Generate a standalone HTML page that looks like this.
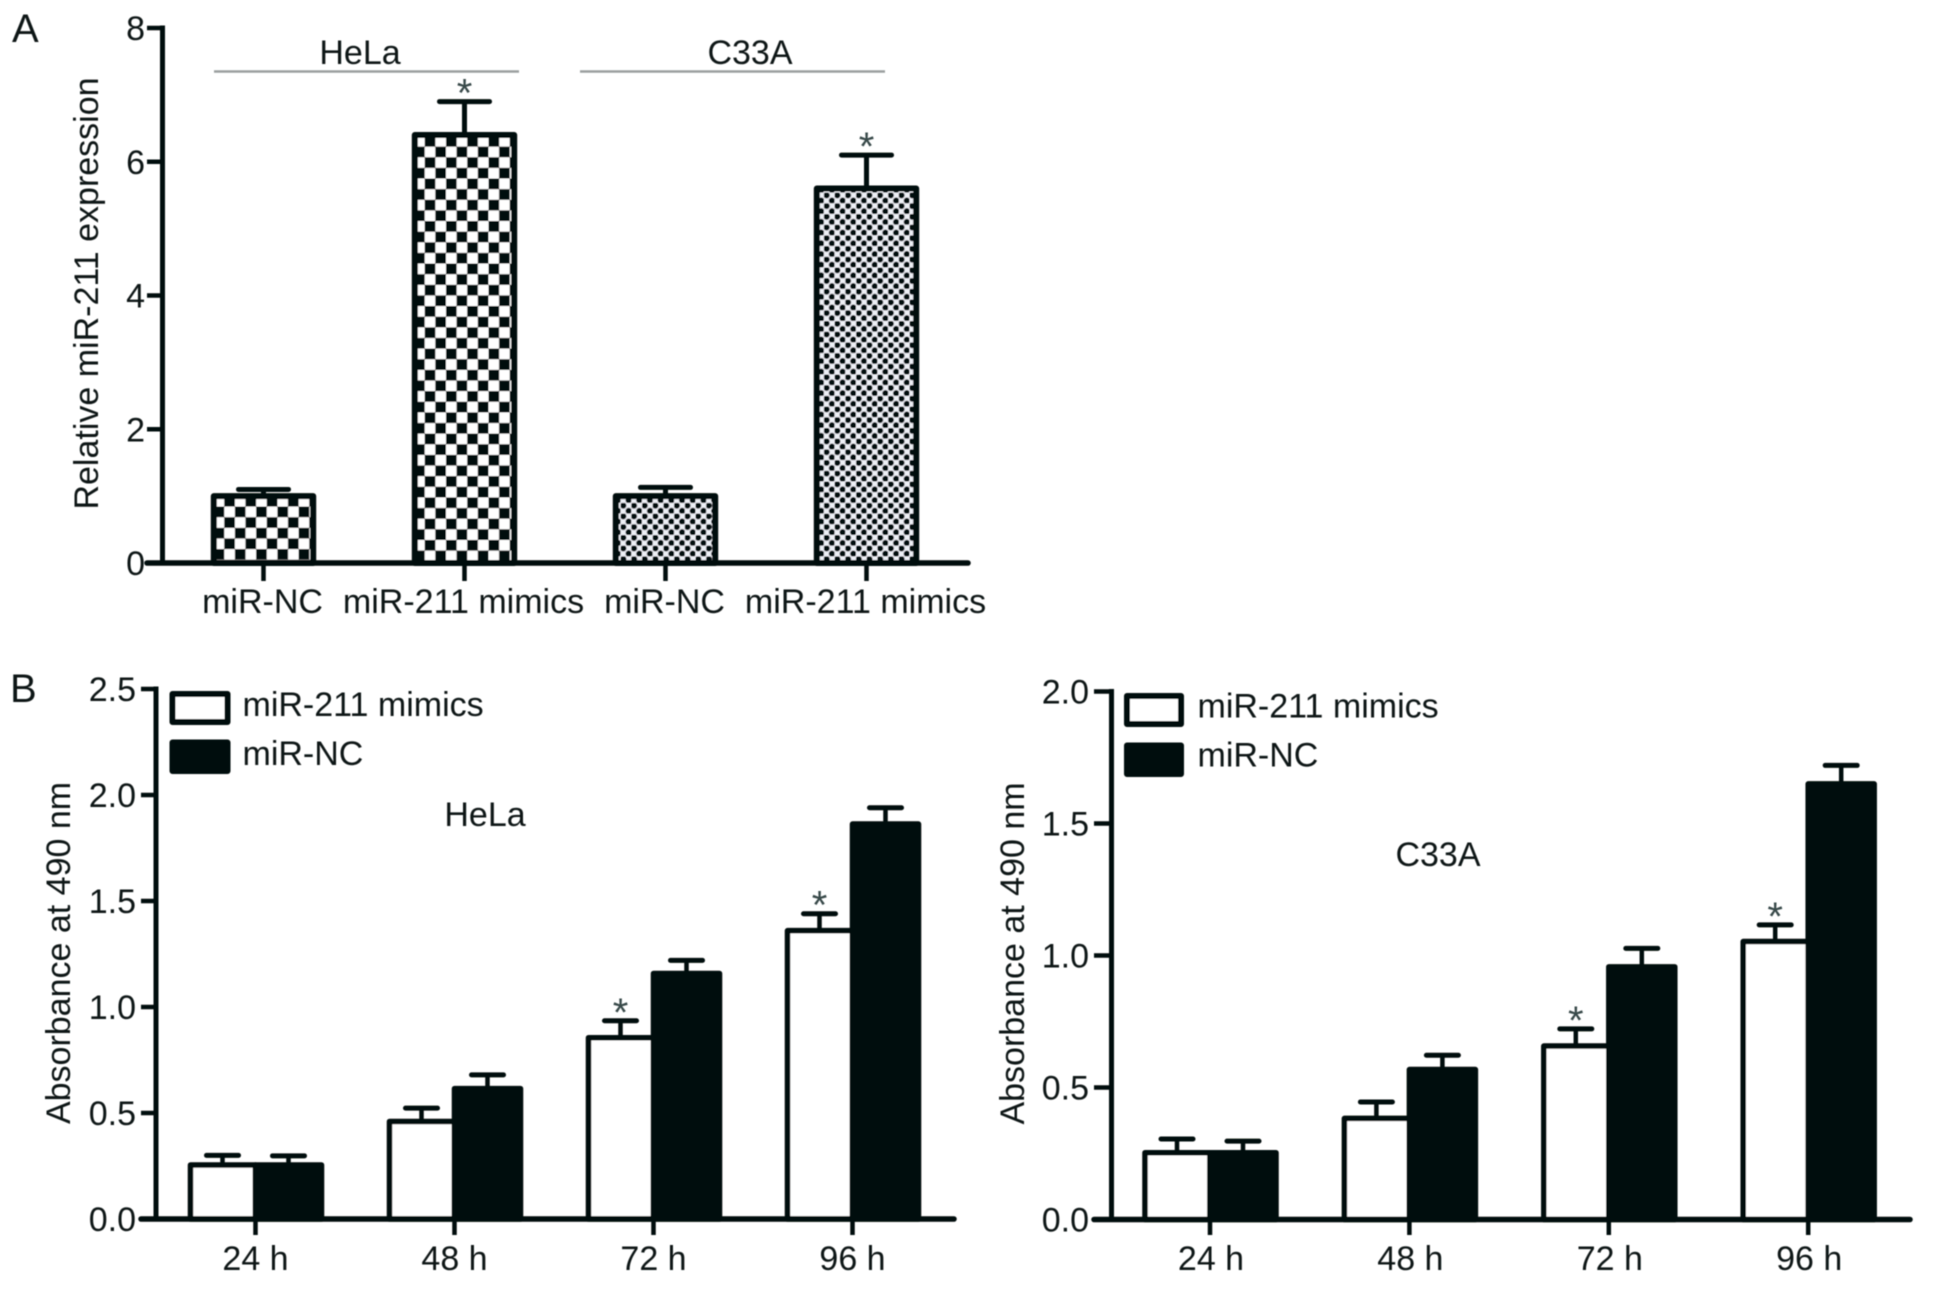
<!DOCTYPE html>
<html lang="en">
<head>
<meta charset="utf-8">
<title>miR-211 expression and absorbance</title>
<style>
html,body{margin:0;padding:0;background:#fff;width:1949px;height:1300px;overflow:hidden}
svg{display:block}
text{font-family:"Liberation Sans",Arial,sans-serif;font-size:34px;fill:#101414}
</style>
</head>
<body>
<svg id="figure" xmlns="http://www.w3.org/2000/svg" width="1949" height="1300" viewBox="0 0 1949 1300">
  <defs>
    <filter id="soft" x="-2%" y="-2%" width="104%" height="104%"><feGaussianBlur stdDeviation="0.6"/></filter>
    <pattern id="checker-a" patternUnits="userSpaceOnUse" x="1" y="17.6" width="21.26" height="21.26">
      <rect width="21.26" height="21.26" fill="#fff"/>
      <rect x="0" y="0" width="10.63" height="10.63" fill="#040807"/>
      <rect x="10.63" y="10.63" width="10.63" height="10.63" fill="#040807"/>
    </pattern>
    <pattern id="checker-b" patternUnits="userSpaceOnUse" x="20.76" y="8.44" width="21.26" height="21.26">
      <rect width="21.26" height="21.26" fill="#fff"/>
      <rect x="0" y="0" width="10.63" height="10.63" fill="#040807"/>
      <rect x="10.63" y="10.63" width="10.63" height="10.63" fill="#040807"/>
    </pattern>
    <pattern id="dots" patternUnits="userSpaceOnUse" width="10.7" height="10.7">
      <rect width="10.7" height="10.7" fill="#eef0f6"/>
      <circle cx="2.67" cy="2.67" r="3.1" fill="#04070f"/>
      <circle cx="8.02" cy="8.02" r="3.1" fill="#04070f"/>
    </pattern>
  </defs>
  <g id="root" filter="url(#soft)">
    <text x="12" y="42" style="font-size:40px">A</text>
    <text x="10" y="702" style="font-size:40px">B</text>

    <text x="360" y="64" text-anchor="middle">HeLa</text>
    <line x1="214" y1="71.5" x2="519" y2="71.5" stroke="#9a9f9f" stroke-width="2.5"/>
    <text x="750" y="64" text-anchor="middle">C33A</text>
    <line x1="580" y1="71.5" x2="885" y2="71.5" stroke="#9a9f9f" stroke-width="2.5"/>
    <text transform="translate(98 293.5) rotate(-90)" text-anchor="middle">Relative miR-211 expression</text>

    <text transform="translate(70 953) rotate(-90)" text-anchor="middle">Absorbance at 490 nm</text>
    <text x="485" y="826" text-anchor="middle">HeLa</text>
    <rect x="172.5" y="694" width="55" height="28" fill="#fff" stroke="#060a09" stroke-width="6" stroke-linejoin="round"/>
    <text x="242.5" y="716">miR-211 mimics</text>
    <rect x="172.5" y="742.5" width="55" height="28.5" fill="#060a09" stroke="#060a09" stroke-width="6" stroke-linejoin="round"/>
    <text x="242.5" y="765">miR-NC</text>

    <text transform="translate(1024 953.5) rotate(-90)" text-anchor="middle">Absorbance at 490 nm</text>
    <text x="1438" y="866" text-anchor="middle">C33A</text>
    <rect x="1127" y="696" width="54" height="28" fill="#fff" stroke="#060a09" stroke-width="6" stroke-linejoin="round"/>
    <text x="1197.5" y="717.5">miR-211 mimics</text>
    <rect x="1127" y="745.5" width="54" height="28.5" fill="#060a09" stroke="#060a09" stroke-width="6" stroke-linejoin="round"/>
    <text x="1197.5" y="766.5">miR-NC</text>
  </g>
</svg>
<script>
/* Panel A data */
const panelACategories = ["miR-NC", "miR-211 mimics", "miR-NC", "miR-211 mimics"];
const panelAValues = [1.0, 6.4, 1.0, 5.6];
const panelAErrors = [0.1, 0.5, 0.13, 0.5];
const panelASignificant = [false, true, false, true];
const panelATicks = [0, 2, 4, 6, 8];
const panelATickLabels = ["0", "2", "4", "6", "8"];

/* Panel B shared data */
const timeCategories = ["24 h", "48 h", "72 h", "96 h"];

/* Panel B, HeLa */
const helaMimics = [0.255, 0.46, 0.855, 1.36];
const helaMimicsErrors = [0.045, 0.063, 0.08, 0.08];
const helaMimicsSignificant = [false, false, true, true];
const helaNC = [0.255, 0.615, 1.158, 1.863];
const helaNCErrors = [0.043, 0.065, 0.062, 0.077];
const helaTicks = [0, 0.5, 1, 1.5, 2, 2.5];
const helaTickLabels = ["0.0", "0.5", "1.0", "1.5", "2.0", "2.5"];

/* Panel B, C33A */
const c33aMimics = [0.253, 0.383, 0.657, 1.053];
const c33aMimicsErrors = [0.052, 0.062, 0.065, 0.063];
const c33aMimicsSignificant = [false, false, true, true];
const c33aNC = [0.253, 0.568, 0.957, 1.65];
const c33aNCErrors = [0.044, 0.054, 0.07, 0.07];
const c33aTicks = [0, 0.5, 1, 1.5, 2];
const c33aTickLabels = ["0.0", "0.5", "1.0", "1.5", "2.0"];

const SVG_NS = "http://www.w3.org/2000/svg";
const INK = "#060a09";
const root = document.getElementById("root");

function make(tag, attrs, parent) {
  const el = document.createElementNS(SVG_NS, tag);
  for (const k in attrs) el.setAttribute(k, attrs[k]);
  (parent || root).appendChild(el);
  return el;
}

function linearScale(d0, d1, r0, r1) {
  return function (v) { return r0 + (v - d0) / (d1 - d0) * (r1 - r0); };
}

function drawAxes(prefix, geo, y, ticks, tickLabels, cats, bandX) {
  const yAxis = make("line", {x1: geo.axisX, y1: y(ticks[ticks.length - 1]) - 2.5, x2: geo.axisX, y2: geo.axisY, stroke: INK, "stroke-width": 5});
  
  
  const xAxis = make("line", {x1: geo.tickLeft, y1: geo.axisY, x2: geo.axisRight, y2: geo.axisY, stroke: INK, "stroke-width": 5.5, "stroke-linecap": "round"});
  
  
  ticks.forEach(function (t, i) {
    const tick = make("line", {x1: geo.tickLeft, y1: y(t), x2: geo.axisX, y2: y(t), stroke: INK, "stroke-width": 4.5});
    
    
    const lab = make("text", {x: geo.tickLabelX, y: y(t) + 12, "text-anchor": "end"});
    lab.textContent = tickLabels[i];
    
    
  });
  cats.forEach(function (c, i) {
    const cx = bandX(i);
    const tick = make("line", {x1: cx, y1: geo.axisY, x2: cx, y2: geo.tickBottom, stroke: INK, "stroke-width": 4.5});
    
    
    const lab = make("text", {x: cx + geo.catDx, y: geo.catBaseline, "text-anchor": "middle"});
    lab.textContent = c;
    
    
  });
}

function drawErrorBar(prefix, cx, y, value, err, capHalf, sw) {
  const top = y(value + err);
  const stem = make("line", {x1: cx, y1: y(value), x2: cx, y2: top, stroke: INK, "stroke-width": sw});
  
  
  const cap = make("line", {x1: cx - capHalf, y1: top, x2: cx + capHalf, y2: top, stroke: INK, "stroke-width": 5, "stroke-linecap": "round"});
  
  
}

function drawStar(prefix, cx, y, value, err) {
  const star = make("text", {x: cx, y: y(value + err) + 5, "text-anchor": "middle", style: "fill:#39494a;font-size:40px"});
  star.textContent = "*";
  
  
}

/* Panel A */
(function () {
  const geo = {axisX: 162.5, axisY: 563, axisRight: 968, tickLeft: 147, tickBottom: 581, tickLabelX: 145, catDx: -1, catBaseline: 613};
  const y = linearScale(0, 8, geo.axisY, 28);
  const x = function (i) { return 263.5 + i * 201; };
  const half = 49.7;
  const patternIds = ["checker-a", "checker-b", "dots", "dots"];
  panelACategories.forEach(function (c, i) {
    const v = panelAValues[i];
    drawErrorBar("panel-a-bar-" + (i + 1), x(i), y, v, panelAErrors[i], 25, 5);
    const bar = make("rect", {x: x(i) - half, y: y(v), width: half * 2, height: geo.axisY - y(v), fill: "url(#" + patternIds[i] + ")", stroke: INK, "stroke-width": 6, "stroke-linejoin": "round"});
    
    
    if (panelASignificant[i]) drawStar("panel-a-bar-" + (i + 1), x(i), y, v, panelAErrors[i]);
  });
  drawAxes("panel-a", geo, y, panelATicks, panelATickLabels, panelACategories, x);
})();

/* Panel B charts */
function drawGrouped(prefix, geo, y, mimics, mimicsErr, mimicsSig, nc, ncErr, ticks, tickLabels) {
  const x = function (i) { return geo.x0 + i * geo.step; };
  timeCategories.forEach(function (c, i) {
    const cx = x(i);
    drawErrorBar(prefix + "-mimics-" + i, cx - 33, y, mimics[i], mimicsErr[i], 16, 4.5);
    drawErrorBar(prefix + "-nc-" + i, cx + 33, y, nc[i], ncErr[i], 16, 4.5);
    const w = make("rect", {x: cx - 65, y: y(mimics[i]), width: 65, height: geo.axisY - y(mimics[i]), fill: "#fff", stroke: INK, "stroke-width": 5.5, "stroke-linejoin": "round"});
    
    
    const b = make("rect", {x: cx, y: y(nc[i]), width: 66, height: geo.axisY - y(nc[i]), fill: INK, stroke: INK, "stroke-width": 5.5, "stroke-linejoin": "round"});
    
    
    if (mimicsSig[i]) drawStar(prefix + "-mimics-" + i, cx - 33, y, mimics[i], mimicsErr[i]);
  });
  drawAxes(prefix, geo, y, ticks, tickLabels, timeCategories, x);
}

(function () {
  const geo = {x0: 255.5, step: 199, axisX: 156, axisY: 1219, axisRight: 954, tickLeft: 141, tickBottom: 1235, tickLabelX: 136, catDx: 0, catBaseline: 1270};
  const y = linearScale(0, 2.5, geo.axisY, 689);
  drawGrouped("hela", geo, y, helaMimics, helaMimicsErrors, helaMimicsSignificant, helaNC, helaNCErrors, helaTicks, helaTickLabels);
})();

(function () {
  const geo = {x0: 1210, step: 199.4, axisX: 1111.5, axisY: 1219.5, axisRight: 1910, tickLeft: 1094, tickBottom: 1235, tickLabelX: 1089, catDx: 1, catBaseline: 1270};
  const y = linearScale(0, 2, geo.axisY, 691.5);
  drawGrouped("c33a", geo, y, c33aMimics, c33aMimicsErrors, c33aMimicsSignificant, c33aNC, c33aNCErrors, c33aTicks, c33aTickLabels);
})();
</script>
</body>
</html>
